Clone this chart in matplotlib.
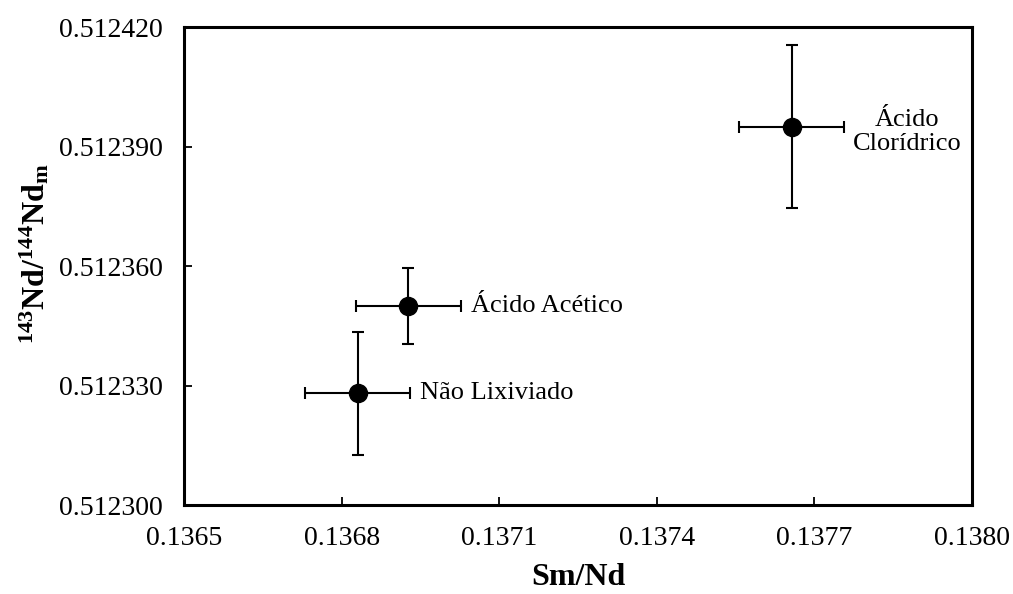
import numpy as np
from matplotlib import pyplot as plt

samples = ['Não Lixiviado', 'Ácido Acético', 'Ácido\nClorídrico']
sm_nd = [0.136831, 0.136927, 0.137657]
sm_nd_err = [0.000100, 0.000100, 0.000100]
nd_ratio = [0.512328, 0.512350, 0.512395]
nd_ratio_err = [0.0000155, 0.0000095, 0.0000205]

x_ticks = [0.1365, 0.1368, 0.1371, 0.1374, 0.1377, 0.1380]
y_ticks = [0.512300, 0.512330, 0.512360, 0.512390, 0.512420]

plt.rcParams['font.family'] = ['Liberation Serif', 'DejaVu Serif']
plt.rcParams['mathtext.fontset'] = 'custom'
plt.rcParams['mathtext.rm'] = 'Liberation Serif'
plt.rcParams['mathtext.bf'] = 'Liberation Serif:bold'

fig = plt.figure(figsize=(10.13, 5.94), dpi=100)
ax = fig.add_axes([0.1816, 0.1498, 0.9595 - 0.1816, 0.9545 - 0.1498])

ax.errorbar(sm_nd, nd_ratio, xerr=sm_nd_err, yerr=nd_ratio_err,
            fmt='o', color='black', markersize=13, elinewidth=1.5,
            capsize=4.5, capthick=1.5)

for x, y, xe, name in zip(sm_nd, nd_ratio, sm_nd_err, samples):
    if '\n' in name:
        ax.annotate(name, (x + xe, y), xytext=(45, -4), textcoords='offset points',
                    ha='center', va='center', fontsize=19, linespacing=1.1)
    else:
        ax.annotate(name, (x + xe, y), xytext=(7, 0), textcoords='offset points',
                    ha='left', va='center', fontsize=19)

ax.set_xlim(x_ticks[0], x_ticks[-1])
ax.set_ylim(y_ticks[0], y_ticks[-1])
ax.set_xticks(x_ticks)
ax.set_yticks(y_ticks)
ax.set_xticklabels(['%.4f' % v for v in x_ticks])
ax.set_yticklabels(['%.6f' % v for v in y_ticks])
ax.tick_params(direction='in', length=6, width=1.3, labelsize=20)
ax.tick_params(axis='x', pad=15)
ax.tick_params(axis='y', pad=15)

for s in ax.spines.values():
    s.set_linewidth(2.2)

ax.set_xlabel('Sm/Nd', fontsize=23, fontweight='bold', labelpad=9)
ax.set_ylabel(r'$\mathbf{^{143}Nd/^{144}Nd_m}$', fontsize=23)
ax.yaxis.set_label_coords(-0.168, 0.525)

fig.savefig('out.png', dpi=100)
